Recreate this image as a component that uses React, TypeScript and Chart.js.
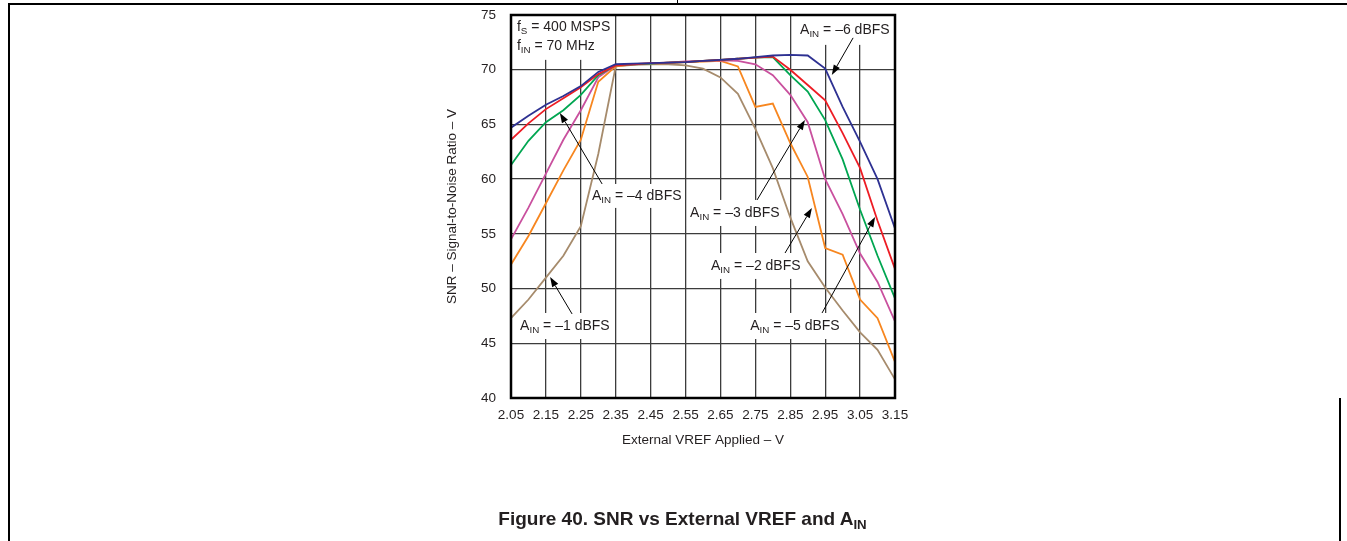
import { useEffect, useRef } from "react";
import { Chart, registerables } from "chart.js";

Chart.register(...registerables);

// ---------- data ----------
const VREF = [
  2.05, 2.1, 2.15, 2.2, 2.25, 2.3, 2.35, 2.4, 2.45, 2.5, 2.55, 2.6, 2.65, 2.7, 2.75, 2.8, 2.85, 2.9, 2.95, 3.0, 3.05,
  3.1, 3.15,
];
const SNR_M6 = [
  64.7, 65.8, 66.8, 67.6, 68.5, 69.8, 70.5, 70.55, 70.6, 70.65, 70.7, 70.8, 70.9, 71.0, 71.15, 71.3, 71.35, 71.3, 70.1,
  66.6, 63.4, 60.0, 55.5,
];
const SNR_M5 = [
  63.6, 65.1, 66.4, 67.4, 68.4, 69.6, 70.4, 70.5, 70.6, 70.65, 70.7, 70.8, 70.9, 71.0, 71.1, 71.2, 70.0, 68.6, 67.2,
  64.2, 61.0, 56.2, 51.8,
];
const SNR_M4 = [
  61.3, 63.5, 65.2, 66.3, 67.7, 69.5, 70.4, 70.5, 70.55, 70.65, 70.7, 70.8, 70.9, 71.0, 71.1, 71.15, 69.5, 68.0, 65.4,
  61.8, 57.2, 53.0, 49.1,
];
const SNR_M3 = [
  54.5, 57.4, 60.5, 63.6, 66.3, 69.3, 70.4, 70.5, 70.55, 70.65, 70.75, 70.8, 70.85, 70.8, 70.5, 69.5, 67.7, 65.2, 60.0,
  56.8, 53.2, 50.6, 47.0,
];
const SNR_M2 = [
  52.2, 54.8, 57.8, 60.8, 63.6, 68.9, 70.3, 70.5, 70.55, 70.6, 70.7, 70.75, 70.8, 70.3, 66.6, 66.9, 63.3, 60.2, 53.7,
  53.1, 49.0, 47.3, 43.3,
];
const SNR_M1 = [
  47.3, 49.0, 51.0, 53.0, 55.7, 62.3, 70.3, 70.45, 70.5, 70.5, 70.4, 70.1, 69.3, 67.8, 64.6, 61.0, 56.5, 52.5, 50.1,
  48.0, 46.0, 44.4, 41.7,
];

const SERIES_NAMES = ["AIN = -6 dBFS", "AIN = -5 dBFS", "AIN = -4 dBFS", "AIN = -3 dBFS", "AIN = -2 dBFS", "AIN = -1 dBFS"];
const SERIES_VALUES = [SNR_M6, SNR_M5, SNR_M4, SNR_M3, SNR_M2, SNR_M1];
const SERIES_COLORS = ["#2e3192", "#ed1c24", "#00a651", "#c9509e", "#f7861f", "#a68b6c"];

const X_TICKS = [2.05, 2.15, 2.25, 2.35, 2.45, 2.55, 2.65, 2.75, 2.85, 2.95, 3.05, 3.15];
const Y_MIN = 40;
const Y_MAX = 75;
const Y_STEP = 5;

const X_TITLE = "External VREF Applied – V";
const Y_TITLE = "SNR – Signal-to-Noise Ratio – V";

// annotation texts ( _{..} = subscript ) and their anchors in data units
const NOTE_TEXTS = [
  "f_{S} = 400 MSPS",
  "f_{IN} = 70 MHz",
  "A_{IN} = –6 dBFS",
  "A_{IN} = –4 dBFS",
  "A_{IN} = –3 dBFS",
  "A_{IN} = –2 dBFS",
  "A_{IN} = –1 dBFS",
  "A_{IN} = –5 dBFS",
];
const NOTE_X = [2.067, 2.067, 2.878, 2.282, 2.563, 2.623, 2.076, 2.735];
const NOTE_Y = [73.91, 72.18, 73.64, 58.46, 56.91, 52.07, 46.58, 46.58];

// white boxes behind notes [x0, x1, y0, y1]
const BOX_X0 = [2.05, 2.866, 2.273, 2.554, 2.611, 2.064, 2.723];
const BOX_X1 = [2.342, 3.15, 2.546, 2.823, 2.889, 2.342, 2.998];
const BOX_Y0 = [70.9, 72.27, 57.37, 55.72, 50.88, 45.39, 45.39];
const BOX_Y1 = [75.0, 75.0, 59.56, 58.1, 53.25, 47.77, 47.77];

// arrows: from (x1,y1) to tip (x2,y2)
const ARROW_X1 = [3.03, 2.311, 2.755, 2.835, 2.225, 2.941];
const ARROW_Y1 = [72.91, 59.56, 58.1, 53.25, 47.68, 47.77];
const ARROW_X2 = [2.969, 2.19, 2.892, 2.912, 2.162, 3.093];
const ARROW_Y2 = [69.52, 66.05, 65.41, 57.37, 51.06, 56.54];

const FONT = '"Liberation Sans", Arial, Helvetica, sans-serif';
const TEXT_COLOR = "#231f20";

function drawRich(ctx: CanvasRenderingContext2D, text: string, x: number, y: number, size: number) {
  const parts: { t: string; sub: boolean }[] = [];
  const re = /_\{(.*?)\}/g;
  let last = 0;
  let m: RegExpExecArray | null;
  while ((m = re.exec(text))) {
    if (m.index > last) parts.push({ t: text.slice(last, m.index), sub: false });
    parts.push({ t: m[1], sub: true });
    last = m.index + m[0].length;
  }
  if (last < text.length) parts.push({ t: text.slice(last), sub: false });
  let cx = x;
  ctx.textAlign = "left";
  ctx.textBaseline = "middle";
  for (const p of parts) {
    const fs = p.sub ? size * 0.7 : size;
    ctx.font = `${fs}px ${FONT}`;
    ctx.fillText(p.t, cx, y + (p.sub ? size * 0.32 : 0));
    cx += ctx.measureText(p.t).width;
  }
}

const notesPlugin = {
  id: "notes",
  beforeDatasetsDraw(chart: any) {
    const { ctx, scales } = chart;
    const sx = scales.x;
    const sy = scales.y;
    ctx.save();
    ctx.fillStyle = "#ffffff";
    for (let i = 0; i < BOX_X0.length; i++) {
      const x0 = sx.getPixelForValue(BOX_X0[i]);
      const x1 = sx.getPixelForValue(BOX_X1[i]);
      const y0 = sy.getPixelForValue(BOX_Y1[i]);
      const y1 = sy.getPixelForValue(BOX_Y0[i]);
      ctx.fillRect(x0, y0, x1 - x0, y1 - y0);
    }
    ctx.restore();
  },
  afterDatasetsDraw(chart: any) {
    const { ctx, scales, chartArea: a } = chart;
    const sx = scales.x;
    const sy = scales.y;
    ctx.save();
    // frame
    ctx.strokeStyle = "#000";
    ctx.lineWidth = 2.5;
    ctx.strokeRect(a.left, a.top, a.right - a.left, a.bottom - a.top);
    // texts
    ctx.fillStyle = TEXT_COLOR;
    for (let i = 0; i < NOTE_TEXTS.length; i++) {
      drawRich(ctx, NOTE_TEXTS[i], sx.getPixelForValue(NOTE_X[i]), sy.getPixelForValue(NOTE_Y[i]), 14);
    }
    // arrows
    ctx.strokeStyle = "#000";
    ctx.fillStyle = "#000";
    ctx.lineWidth = 1;
    for (let i = 0; i < ARROW_X1.length; i++) {
      const x1 = sx.getPixelForValue(ARROW_X1[i]);
      const y1 = sy.getPixelForValue(ARROW_Y1[i]);
      const x2 = sx.getPixelForValue(ARROW_X2[i]);
      const y2 = sy.getPixelForValue(ARROW_Y2[i]);
      const ang = Math.atan2(y2 - y1, x2 - x1);
      const hl = 10;
      const hw = 3.5;
      const bx = x2 - hl * Math.cos(ang);
      const by = y2 - hl * Math.sin(ang);
      ctx.beginPath();
      ctx.moveTo(x1, y1);
      ctx.lineTo(bx, by);
      ctx.stroke();
      ctx.beginPath();
      ctx.moveTo(x2, y2);
      ctx.lineTo(bx + hw * Math.sin(ang), by - hw * Math.cos(ang));
      ctx.lineTo(bx - hw * Math.sin(ang), by + hw * Math.cos(ang));
      ctx.closePath();
      ctx.fill();
    }
    ctx.restore();
  },
};

export default function App() {
  const ref = useRef<HTMLCanvasElement | null>(null);

  useEffect(() => {
    if (!ref.current) return;
    const chart = new Chart(ref.current, {
      type: "line",
      data: {
        datasets: SERIES_VALUES.map((vals, i) => ({
          label: SERIES_NAMES[i],
          data: VREF.map((x, j) => ({ x, y: vals[j] })),
          borderColor: SERIES_COLORS[i],
          backgroundColor: SERIES_COLORS[i],
          borderWidth: 1.8,
          pointRadius: 0,
          tension: 0,
          fill: false,
        })),
      },
      options: {
        animation: false,
        responsive: false,
        devicePixelRatio: 1,
        events: [],
        layout: { padding: { left: 440, top: 15, right: 452, bottom: 89 } },
        plugins: {
          legend: { display: false },
          tooltip: { enabled: false },
          title: { display: false },
        },
        scales: {
          x: {
            type: "linear",
            min: X_TICKS[0],
            max: X_TICKS[X_TICKS.length - 1],
            afterBuildTicks: (s: any) => {
              s.ticks = X_TICKS.map((v) => ({ value: v }));
            },
            afterFit: (s: any) => {
              s.height = 54;
              s.paddingLeft = 0;
              s.paddingRight = 0;
            },
            ticks: {
              autoSkip: false,
              maxRotation: 0,
              padding: 9,
              color: TEXT_COLOR,
              font: { family: FONT, size: 13.5 },
              callback: (v: any) => Number(v).toFixed(2),
            },
            grid: { color: "#3c3c3c", lineWidth: 1.3, drawTicks: false },
            border: { display: false },
            title: {
              display: true,
              text: X_TITLE,
              color: TEXT_COLOR,
              font: { family: FONT, size: 13.5 },
              padding: { top: 4, bottom: 4 },
            },
          },
          y: {
            type: "linear",
            min: Y_MIN,
            max: Y_MAX,
            afterFit: (s: any) => {
              s.width = 71;
              s.paddingTop = 0;
              s.paddingBottom = 0;
            },
            ticks: {
              stepSize: Y_STEP,
              padding: 15,
              color: TEXT_COLOR,
              font: { family: FONT, size: 13.5 },
            },
            grid: { color: "#3c3c3c", lineWidth: 1.3, drawTicks: false },
            border: { display: false },
            title: {
              display: true,
              text: Y_TITLE,
              color: TEXT_COLOR,
              font: { family: FONT, size: 13.5 },
              padding: { top: 4, bottom: 4 },
            },
          },
        },
      },
      plugins: [notesPlugin],
    } as any);
    return () => chart.destroy();
  }, []);

  return (
    <div style={{ position: "absolute", left: 0, top: 0, width: 1347, height: 541, background: "#fff", overflow: "hidden" }}>
      <div style={{ position: "absolute", left: 8, top: 3, width: 1339, height: 1.5, background: "#000" }} />
      <div style={{ position: "absolute", left: 8, top: 3, width: 1.5, height: 538, background: "#000" }} />
      <div style={{ position: "absolute", left: 677, top: 0, width: 1.2, height: 4, background: "#000" }} />
      <div style={{ position: "absolute", left: 1339, top: 398, width: 1.5, height: 143, background: "#000" }} />
      <canvas ref={ref} width={1347} height={541} style={{ position: "absolute", left: 0, top: 0, width: 1347, height: 541 }} />
      <div
        style={{
          position: "absolute",
          left: 0,
          width: 1347,
          top: 508,
          textAlign: "center",
          fontFamily: FONT,
          fontWeight: "bold",
          fontSize: 19,
          color: TEXT_COLOR,
          paddingLeft: 18,
          boxSizing: "border-box",
        }}
      >
        Figure 40. SNR vs External VREF and A
        <sub style={{ fontSize: "0.7em", verticalAlign: "-0.3em" }}>IN</sub>
      </div>
    </div>
  );
}
